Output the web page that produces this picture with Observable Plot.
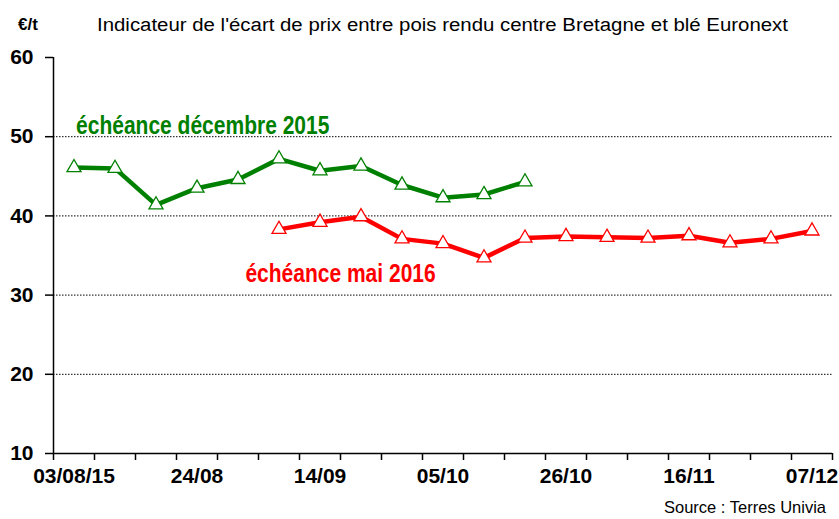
<!DOCTYPE html>
<html>
<head>
<meta charset="utf-8">
<script src="https://cdn.jsdelivr.net/npm/d3@7"></script>
<script src="https://cdn.jsdelivr.net/npm/@observablehq/plot@0.6"></script>
<style>
  html, body { margin: 0; padding: 0; background: #fff; }
  #chart { position: relative; width: 839px; height: 519px; }
</style>
</head>
<body>
<div id="chart"></div>
<script>
// ---- data ----
const weeks = ["03/08","10/08","17/08","24/08","31/08","07/09","14/09","21/09","28/09","05/10",
               "12/10","19/10","26/10","02/11","09/11","16/11","23/11","30/11","07/12"];
const tickWeeks  = ["03/08","24/08","14/09","05/10","26/10","16/11","07/12"];
const tickLabels = ["03/08/15","24/08","14/09","05/10","26/10","16/11","07/12"];
const yTicks = [10, 20, 30, 40, 50, 60];
const gridValues = [20, 30, 40, 50];

const seriesNames = ["échéance décembre 2015", "échéance mai 2016"];
const seriesStart = ["03/08", "07/09"];
const dec2015 = [46.1, 46.0, 41.4, 43.5, 44.6, 47.2, 45.7, 46.3, 43.9, 42.3, 42.7, 44.3];
const mai2016 = [38.3, 39.2, 39.9, 37.1, 36.5, 34.7, 37.2, 37.4, 37.3, 37.2, 37.5, 36.6, 37.1, 38.1];
const colors = ["#008000", "#ff0000"];
// annotation anchor (week index, value) for each series label
const labelX = [0.05, 4.18];
const labelY = [50.4, 31.6];

const title = "Indicateur de l'écart de prix entre pois rendu centre Bretagne et blé Euronext";
const unit = "€/t";
const source = "Source : Terres Univia";

// ---- build tables ----
const idx = w => weeks.indexOf(w);
const rows = [];
[dec2015, mai2016].forEach((vals, s) => {
  const start = idx(seriesStart[s]);
  vals.forEach((v, i) => rows.push({series: seriesNames[s], i: start + i, value: v}));
});
const labels = seriesNames.map((name, s) => ({name, x: labelX[s], y: labelY[s], color: colors[s]}));
const boundaries = d3.range(weeks.length + 1).map(k => k - 0.5);
const tickIdx = tickWeeks.map(idx);

const plot = Plot.plot({
  width: 839,
  height: 519,
  marginLeft: 53,
  marginRight: 7,
  marginTop: 57,
  marginBottom: 66,
  style: {fontFamily: "'Liberation Sans', Arial, sans-serif", fontSize: "21px", fontWeight: "bold", color: "#000", background: "#fff"},
  x: {type: "linear", domain: [-0.5, weeks.length - 0.5]},
  y: {domain: [10, 60]},
  color: {domain: seriesNames, range: colors},
  marks: [
    Plot.ruleY(gridValues, {stroke: "#000", strokeWidth: 1, strokeDasharray: "1.5,1.5"}),
    Plot.axisY({ticks: yTicks, tickSize: 8, tickPadding: 12, tickFormat: d3.format("d"), label: null, strokeWidth: 1.5, strokeOpacity: 1}),
    Plot.axisX({ticks: boundaries, tickSize: 7, tickFormat: () => "", label: null, strokeWidth: 1.5, strokeOpacity: 1}),
    Plot.axisX({ticks: tickIdx, tickSize: 0, tickPadding: 15, tickFormat: d => tickLabels[tickIdx.indexOf(d)], label: null}),
    Plot.ruleX([-0.5], {stroke: "#000", strokeWidth: 1.5}),
    Plot.ruleY([10], {stroke: "#000", strokeWidth: 1.5}),
    Plot.line(rows, {x: "i", y: "value", z: "series", stroke: "series", strokeWidth: 4.5, strokeLinejoin: "round"}),
    Plot.dot(rows, {x: "i", y: "value", stroke: "series", fill: "white", symbol: "triangle", r: 5.2, strokeWidth: 1.3}),
    Plot.text(labels, {x: "x", y: "y", text: "name", fill: "color", textAnchor: "start", lineAnchor: "bottom",
      fontSize: 25, fontWeight: "bold", fontFamily: "'Liberation Sans', Arial, sans-serif", className: "series-label"})
  ]
});

const chart = document.getElementById("chart");
chart.appendChild(plot);

// condense the series labels (narrow bold face in the reference)
d3.select(plot).selectAll(".series-label text").each(function() {
  const w = this.getComputedTextLength();
  d3.select(this).attr("textLength", w * 0.84).attr("lengthAdjust", "spacingAndGlyphs");
});

const svg = d3.select(plot);
svg.append("text").attr("x", 97).attr("y", 31).attr("font-size", 18).attr("font-weight", "normal")
  .attr("text-anchor", "start").attr("textLength", 691).attr("lengthAdjust", "spacingAndGlyphs")
  .attr("fill", "#000").text(title);
svg.append("text").attr("x", 18).attr("y", 30).attr("font-size", 17).attr("font-weight", "bold")
  .attr("text-anchor", "start").attr("fill", "#000").text(unit);
svg.append("text").attr("x", 826).attr("y", 513).attr("font-size", 16.5).attr("font-weight", "normal")
  .attr("text-anchor", "end").attr("fill", "#000").text(source);
</script>
</body>
</html>
